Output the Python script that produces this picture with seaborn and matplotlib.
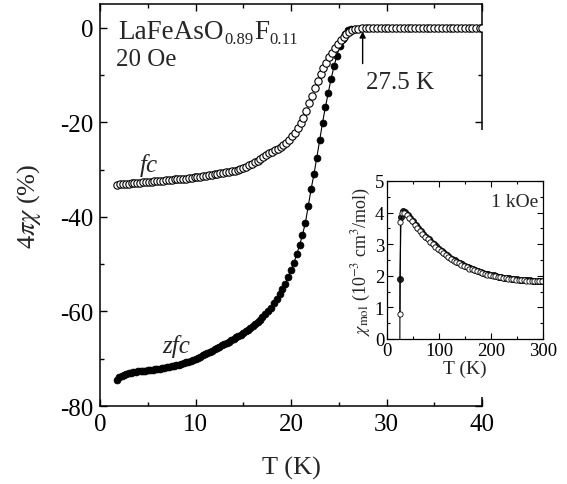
import numpy as np
import matplotlib
matplotlib.use('Agg')
import matplotlib.pyplot as plt
from matplotlib.patches import Rectangle
import seaborn as sns

# ---- main panel: 4*pi*chi (%) vs T (K), 20 Oe ----
T_fc = [1.8, 2.1, 2.4, 2.7, 3.0, 3.3, 3.6, 3.9, 4.2, 4.5, 4.8, 5.1, 5.4, 5.7, 6.0,
        6.3, 6.6, 6.9, 7.2, 7.5, 7.8, 8.1, 8.4, 8.7, 9.0, 9.3, 9.6, 9.9, 10.2, 10.5,
        10.8, 11.1, 11.4, 11.7, 12.0, 12.3, 12.6, 12.9, 13.2, 13.5, 13.8, 14.1, 14.4,
        14.7, 15.0, 15.3, 15.6, 15.9, 16.2, 16.5, 16.8, 17.1, 17.4, 17.7, 18.0, 18.3,
        18.6, 18.9, 19.2, 19.5, 19.8, 20.1, 20.4, 20.7, 21.0, 21.3, 21.6, 21.9, 22.2,
        22.5, 22.8, 23.1, 23.4, 23.7, 24.0, 24.3, 24.6, 24.9, 25.2, 25.5, 25.8, 26.1,
        26.4, 26.7, 27.0, 27.4, 27.8, 28.2, 28.6, 29.0, 29.4, 29.8, 30.2, 30.6, 31.0,
        31.4, 31.8, 32.2, 32.6, 33.0, 33.4, 33.8, 34.2, 34.6, 35.0, 35.4, 35.8, 36.2,
        36.6, 37.0, 37.4, 37.8, 38.2, 38.6, 39.0, 39.4, 39.8, 40.0]
chi_fc = [-33.2, -33.1, -33.1, -33.0, -33.0, -32.9, -32.9, -32.8, -32.8, -32.7, -32.7,
          -32.6, -32.6, -32.5, -32.5, -32.4, -32.4, -32.3, -32.3, -32.2, -32.1, -32.1,
          -32.0, -32.0, -31.9, -31.8, -31.7, -31.6, -31.6, -31.5, -31.4, -31.3, -31.2,
          -31.1, -31.0, -30.9, -30.8, -30.7, -30.6, -30.5, -30.4, -30.3, -30.1, -29.9,
          -29.7, -29.4, -29.1, -28.8, -28.5, -28.1, -27.7, -27.3, -27.0, -26.6, -26.3,
          -25.9, -25.6, -25.2, -24.8, -24.3, -23.7, -23.0, -22.2, -21.3, -20.2, -19.0,
          -17.7, -16.0, -14.4, -12.8, -11.3, -9.9, -8.6, -7.4, -6.3, -5.3, -4.4, -3.5,
          -2.7, -2.0, -1.4, -0.9, -0.6, -0.35, -0.2, -0.1, -0.05, 0.0, 0.0, 0.0, 0.0,
          0.0, 0.0, 0.0, 0.0, 0.0, 0.0, 0.0, 0.0, 0.0, 0.0, 0.0, 0.0, 0.0, 0.0, 0.0,
          0.0, 0.0, 0.0, 0.0, 0.0, 0.0, 0.0, 0.0, 0.0, 0.0, 0.0, 0.0]

T_zfc = [1.8, 2.0, 2.25, 2.5, 2.75, 3.0, 3.25, 3.5, 3.75, 4.0, 4.25, 4.5, 4.75, 5.0,
         5.25, 5.5, 5.75, 6.0, 6.25, 6.5, 6.75, 7.0, 7.25, 7.5, 7.75, 8.0, 8.25, 8.5,
         8.75, 9.0, 9.25, 9.5, 9.75, 10.0, 10.25, 10.5, 10.75, 11.0, 11.25, 11.5, 11.75,
         12.0, 12.25, 12.5, 12.75, 13.0, 13.25, 13.5, 13.75, 14.0, 14.25, 14.5, 14.75,
         15.0, 15.25, 15.5, 15.75, 16.0, 16.25, 16.5, 16.75, 17.0, 17.3, 17.6, 17.9,
         18.2, 18.5, 18.8, 19.1, 19.4, 19.7, 20.0, 20.3, 20.6, 20.9, 21.2, 21.5, 21.8,
         22.1, 22.4, 22.7, 23.0, 23.3, 23.6, 23.9, 24.2, 24.5, 24.8, 25.1, 25.4, 25.7,
         26.0, 26.3]
chi_zfc = [-74.5, -73.9, -73.6, -73.4, -73.3, -73.1, -73.0, -72.9, -72.8, -72.7, -72.6,
           -72.5, -72.5, -72.4, -72.3, -72.3, -72.2, -72.1, -72.1, -72.0, -71.9, -71.8,
           -71.7, -71.6, -71.5, -71.4, -71.3, -71.1, -71.0, -70.8, -70.6, -70.4, -70.2,
           -70.0, -69.8, -69.6, -69.3, -69.1, -68.8, -68.6, -68.3, -68.0, -67.8, -67.5,
           -67.2, -66.9, -66.7, -66.4, -66.1, -65.8, -65.5, -65.2, -64.9, -64.6, -64.2,
           -63.9, -63.5, -63.1, -62.7, -62.3, -61.8, -61.2, -60.6, -59.9, -59.2, -58.3,
           -57.4, -56.4, -55.3, -54.1, -52.8, -51.3, -49.8, -47.9, -46.0, -43.8, -41.3,
           -37.8, -34.2, -31.0, -27.5, -23.8, -20.1, -16.8, -13.8, -10.8, -8.2, -5.9,
           -3.9, -2.4, -1.3, -0.6, -0.2]

# ---- inset: chi_mol (1e-3 cm^3/mol) vs T (K), 1 kOe ----
T_in_zfc = [24, 25, 27, 30, 35, 40, 45, 50, 55, 60, 65, 70, 75, 80, 85, 90, 95, 100,
            105, 110, 115, 120, 125, 130, 135, 140, 145, 150, 155, 160, 165, 170, 175,
            180, 185, 190, 195, 200, 205, 210, 215, 220, 225, 230, 235, 240, 245, 250,
            255, 260, 265, 270, 275, 280, 285, 290, 295, 300]
chi_in_zfc = [-8.0, 1.9, 3.85, 4.05, 4.02, 3.93, 3.82, 3.72, 3.62, 3.52, 3.42, 3.33,
              3.24, 3.16, 3.08, 3.00, 2.93, 2.86, 2.79, 2.72, 2.66, 2.60, 2.54, 2.49,
              2.44, 2.40, 2.36, 2.32, 2.28, 2.24, 2.21, 2.18, 2.15, 2.12, 2.09, 2.07,
              2.05, 2.03, 2.01, 1.99, 1.97, 1.96, 1.94, 1.93, 1.92, 1.91, 1.90, 1.89,
              1.88, 1.87, 1.87, 1.86, 1.86, 1.85, 1.85, 1.85, 1.85, 1.85]
T_in_fc = [25, 26, 29, 33, 38, 43, 48, 53, 58, 63, 68, 73, 78, 83, 88, 93, 98, 103,
           108, 113, 118, 123, 128, 133, 138, 143, 148, 153, 158, 163, 168, 173, 178,
           183, 188, 193, 198, 203, 208, 213, 218, 223, 228, 233, 238, 243, 248, 253,
           258, 263, 268, 273, 278, 283, 288, 293, 298]
chi_in_fc = [0.8, 3.7, 3.98, 3.98, 3.92, 3.82, 3.72, 3.62, 3.52, 3.42, 3.33, 3.24,
             3.15, 3.07, 2.99, 2.92, 2.85, 2.78, 2.71, 2.65, 2.59, 2.53, 2.48, 2.43,
             2.39, 2.35, 2.31, 2.27, 2.23, 2.20, 2.17, 2.14, 2.11, 2.08, 2.06, 2.04,
             2.02, 2.00, 1.98, 1.96, 1.95, 1.93, 1.92, 1.91, 1.90, 1.89, 1.88, 1.87,
             1.86, 1.86, 1.85, 1.85, 1.84, 1.84, 1.84, 1.84, 1.84]

sns.set_theme(style="ticks")
plt.rcParams['font.family'] = ['Liberation Serif', 'DejaVu Serif']
plt.rcParams['mathtext.fontset'] = 'stix'
plt.rcParams['axes.linewidth'] = 1.1
plt.rcParams['xtick.direction'] = 'in'
plt.rcParams['ytick.direction'] = 'in'

fig = plt.figure(figsize=(5.67, 4.85), dpi=100)
ax = fig.add_axes([0.1764, 0.1608, 0.6737, 0.8289])

sns.lineplot(x=T_zfc, y=chi_zfc, ax=ax, color='black', linewidth=0.8, marker='o',
             markersize=5.0, markeredgecolor='black', markerfacecolor='black',
             markeredgewidth=0.5, sort=False, estimator=None, zorder=3)
sns.scatterplot(x=T_fc, y=chi_fc, ax=ax, s=28, facecolor='white', edgecolor='black',
                linewidth=0.8, zorder=4)

ax.set_xlim(0, 40)
ax.set_ylim(-80, 5)
ax.set_xticks([0, 10, 20, 30, 40])
ax.set_xticks([5, 15, 25, 35], minor=True)
ax.set_yticks([-80, -60, -40, -20, 0])
ax.set_yticks([-70, -50, -30, -10], minor=True)
ax.set_yticklabels(['-80', '-60', '-40', '-20', '0'])
ax.tick_params(which='both', top=True, right=True, width=1.0, labelsize=18, colors='black')
ax.tick_params(which='major', length=5, pad=5)
ax.tick_params(which='minor', length=3)
for s in ax.spines.values():
    s.set_color('black')
ax.set_xlabel('T (K)', fontsize=19, labelpad=15)
ax.set_ylabel('4$\\pi\\chi$ (%)', fontsize=19, labelpad=12)

# formula: big letters with small subscripts, chained piece by piece on one baseline
base_y = -2.1
t1 = ax.text(1.9, base_y, 'LaFeAsO', fontsize=19.5, va='baseline')
t2 = ax.annotate('0.89', xy=(1, base_y), xycoords=(t1, 'data'), xytext=(0.5, -4),
                 textcoords='offset points', fontsize=12, va='baseline')
t3 = ax.annotate('F', xy=(1, base_y), xycoords=(t2, 'data'), xytext=(0.5, 0),
                 textcoords='offset points', fontsize=19.5, va='baseline')
ax.annotate('0.11', xy=(1, base_y), xycoords=(t3, 'data'), xytext=(0.5, -4),
            textcoords='offset points', fontsize=12, va='baseline')
ax.text(1.7, -7.8, '20 Oe', fontsize=18, va='baseline')
ax.text(4.2, -30.4, 'fc', fontsize=18, style='italic', va='baseline')
ax.text(6.5, -68.5, 'zfc', fontsize=18, style='italic', va='baseline')
ax.text(27.9, -12.7, '27.5 K', fontsize=18, va='baseline')
ax.annotate('', xy=(27.5, -0.8), xytext=(27.5, -7.6),
            arrowprops=dict(arrowstyle='-|>', color='black', lw=1.0,
                            mutation_scale=9, shrinkA=0, shrinkB=0))

# white box the inset sits on, hides part of the main right spine
fig.add_artist(Rectangle((0.600, 0.179), 0.400, 0.551, transform=fig.transFigure,
                         facecolor='white', edgecolor='none', zorder=1))

axin = fig.add_axes([0.6825, 0.299, 0.2751, 0.3258])
axin.set_zorder(3)
sns.lineplot(x=T_in_zfc, y=chi_in_zfc, ax=axin, color='black', linewidth=0.8,
             marker='o', markersize=4.4, markeredgecolor='black',
             markerfacecolor='#222222', markeredgewidth=0.5, sort=False,
             estimator=None)
sns.lineplot(x=T_in_fc, y=chi_in_fc, ax=axin, color='black', linewidth=0.8,
             marker='o', markersize=3.8, markeredgecolor='black',
             markerfacecolor='white', markeredgewidth=0.6, sort=False,
             estimator=None)
axin.set_xlim(0, 300)
axin.set_ylim(0, 5)
axin.set_xticks([0, 100, 200, 300])
axin.set_xticks([50, 150, 250], minor=True)
axin.set_yticks([0, 1, 2, 3, 4, 5])
axin.set_yticks([0.5, 1.5, 2.5, 3.5, 4.5], minor=True)
axin.tick_params(which='both', top=True, right=True, width=0.8, labelsize=13.5,
                 colors='black')
axin.tick_params(which='major', length=4, pad=2)
axin.tick_params(which='minor', length=2)
for s in axin.spines.values():
    s.set_color('black')
    s.set_linewidth(0.9)
axin.set_xlabel('T (K)', fontsize=14, labelpad=1)
axin.set_ylabel('$\\chi_{\\mathrm{mol}}$ (10$^{-3}$ cm$^{3}$/mol)', fontsize=13, labelpad=1)
axin.text(290, 4.2, '1 kOe', fontsize=14, ha='right', va='baseline')

fig.savefig('out.png', dpi=100)
